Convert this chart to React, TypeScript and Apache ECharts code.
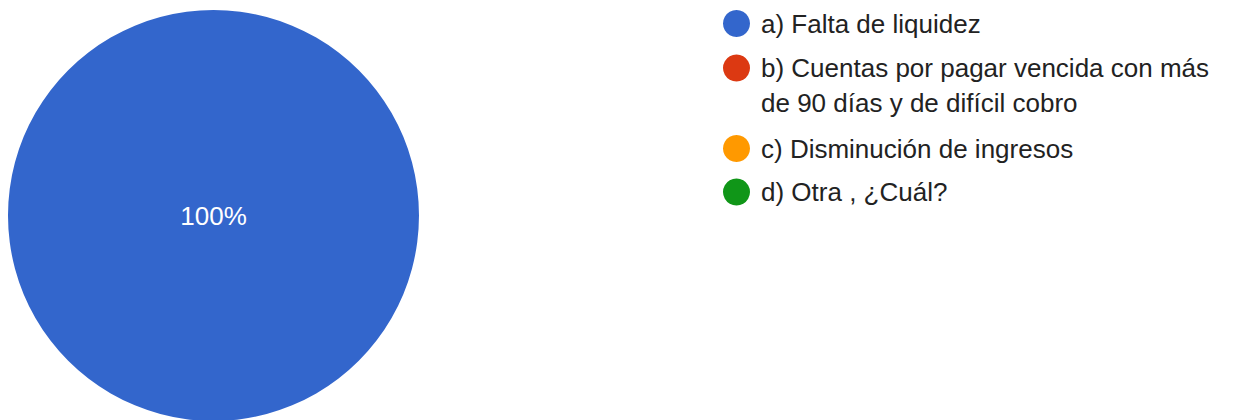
import React, { useEffect, useRef } from "react";
import * as echarts from "echarts";

const categories = [
  "a) Falta de liquidez",
  "b) Cuentas por pagar vencida con más\nde 90 días y de difícil cobro",
  "c) Disminución de ingresos",
  "d) Otra , ¿Cuál?",
];
const values = [100, 0, 0, 0];
const colors = ["#3366cc", "#dc3912", "#ff9900", "#109618"];

const FONT = "'Liberation Sans', Arial, sans-serif";

export default function App() {
  const ref = useRef<HTMLDivElement>(null);
  useEffect(() => {
    document.body.style.margin = "0";
    const chart = echarts.init(ref.current!, null, { renderer: "svg" });
    const baseLegend = {
      orient: "vertical",
      left: 723,
      padding: 0,
      icon: "circle",
      itemWidth: 27,
      itemHeight: 27,
      selectedMode: false,
      textStyle: { fontFamily: FONT, fontSize: 26, color: "#222222", padding: [0, 0, 0, 6] },
    };
    chart.setOption({
      animation: false,
      color: colors,
      legend: [
        { ...baseLegend, top: 10, data: [categories[0]] },
        {
          ...baseLegend,
          top: 15.5,
          data: [categories[1]],
          formatter: (name: string) => "\n" + name,
          textStyle: {
            ...baseLegend.textStyle,
            lineHeight: 35,
          },
        },
        { ...baseLegend, top: 135, itemGap: 16.5, data: [categories[2], categories[3]] },
      ],
      series: [
        {
          type: "pie",
          center: [213.5, 215.5],
          radius: 205.5,
          startAngle: 90,
          itemStyle: { borderWidth: 0 },
          label: {
            show: true,
            position: "center",
            fontFamily: FONT,
            fontSize: 26,
            color: "#ffffff",
            formatter: (p: any) => (p.value > 0 ? `${Math.round(p.percent)}%` : ""),
          },
          labelLine: { show: false },
          emphasis: { disabled: true },
          data: categories.map((name, i) => ({ name, value: values[i] })),
        },
      ],
    });
    return () => chart.dispose();
  }, []);
  return <div ref={ref} style={{ width: 1256, height: 420 }} />;
}
